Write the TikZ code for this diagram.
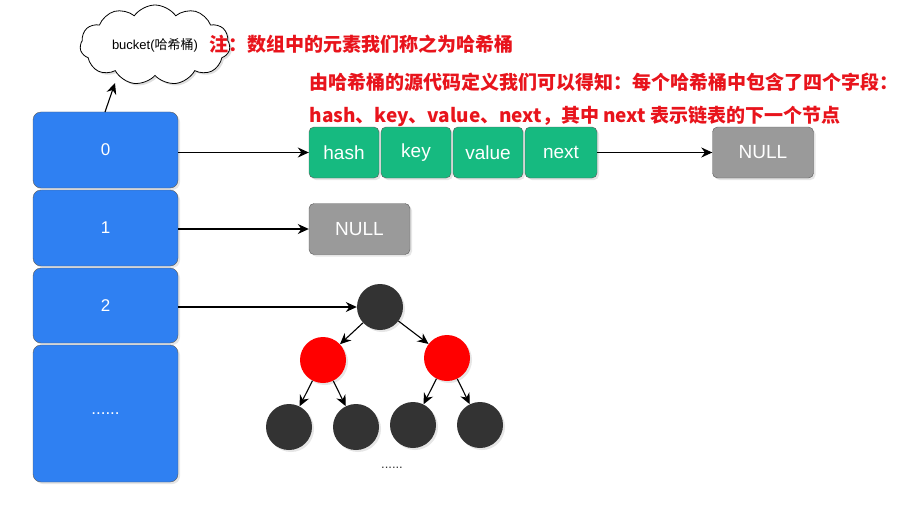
\documentclass[tikz,border=0pt]{standalone}
\usepackage{fontspec}
\setmainfont{Liberation Sans}
\newfontfamily\cjk{Noto Sans CJK SC}
\usetikzlibrary{shapes.symbols,arrows.meta,shadows}
\definecolor{blu}{HTML}{2F80F2}
\definecolor{grn}{HTML}{16BA80}
\definecolor{gry}{HTML}{9A9A9A}
\definecolor{dk}{HTML}{333333}
\definecolor{rd}{HTML}{E8141C}
\begin{document}
\begin{tikzpicture}[x=1pt,y=-1pt,
  arr/.style={-{Stealth[length=11pt,width=10pt]},line width=1.1pt},
  slot/.style={draw=dk!80,fill=blu,rounded corners=8pt,text=white,font=\fontsize{17}{19}\selectfont,drop shadow={opacity=0.2,shadow xshift=2pt,shadow yshift=-2pt}},
  fld/.style={draw=dk!80,fill=grn,rounded corners=5pt,minimum width=70pt,minimum height=51pt,text=white,font=\fontsize{19}{21}\selectfont,drop shadow={opacity=0.2,shadow xshift=2pt,shadow yshift=-2pt}},
  nul/.style={draw=dk!80,fill=gry,rounded corners=5pt,minimum width=101pt,minimum height=51pt,text=white,font=\fontsize{19}{21}\selectfont,drop shadow={opacity=0.2,shadow xshift=2pt,shadow yshift=-2pt}},
  rb/.style={circle,minimum size=46pt,inner sep=0pt,fill=#1,drop shadow={opacity=0.2,shadow xshift=2pt,shadow yshift=-2pt}},
  note/.style={anchor=west,text=rd,font=\cjk\bfseries\fontsize{19}{21}\selectfont}]
\useasboundingbox (0,0) rectangle (920,508);
\node[slot,minimum width=145pt,minimum height=76pt] (s0) at (105.5,150) {0};
\node[slot,minimum width=145pt,minimum height=76pt] (s1) at (105.5,228) {1};
\node[slot,minimum width=145pt,minimum height=75pt] (s2) at (105.5,305.5) {2};
\node[slot,minimum width=145pt,minimum height=137pt] (s3) at (105.5,413.5) {......};
\node[cloud,cloud puffs=11,cloud puff arc=110,aspect=2,draw=black,thick,fill=white,inner sep=-4pt,minimum width=150pt,minimum height=80pt,font=\fontsize{13}{15}\selectfont,drop shadow={opacity=0.25,shadow xshift=2pt,shadow yshift=-2pt}] (cl) at (155,45) {bucket({\cjk 哈希桶})};
\coordinate (c0) at (105,112);
\draw[arr] (c0) -- (115,83);
\node[note] (n1) at (206,44) {注：数组中的元素我们称之为哈希桶};
\node[note] (n2) at (306,82) {由哈希桶的源代码定义我们可以得知：每个哈希桶中包含了四个字段：};
\node[note] (n3) at (306,116) {hash、key、value、next，其中 next 表示链表的下一个节点};
\node[fld] (h) at (344,152.5) {hash};
\node[fld] (k) at (416,152.5) {key};
\node[fld] (v) at (488,152.5) {value};
\node[fld,minimum width=72pt] (nx) at (561,152.5) {next};
\node[nul] (N1) at (763,152.5) {NULL};
\node[nul] (N2) at (359.5,229) {NULL};
\draw[arr] (s0.east |- h) -- (h.west);
\draw[arr] (nx.east) -- (N1.west);
\draw[arr] (s1.east |- N2) -- (N2.west);
\node[rb=dk] (r) at (380,307) {};
\node[rb=red] (a) at (323,360) {};
\node[rb=red] (b) at (447,358) {};
\node[rb=dk] (l1) at (289,427) {};
\node[rb=dk] (l2) at (356,427) {};
\node[rb=dk] (l3) at (413,425) {};
\node[rb=dk] (l4) at (480,425) {};
\draw[arr] (s2.east |- r) -- (r.west);
\draw[arr] (r) -- (a); \draw[arr] (r) -- (b);
\draw[arr] (a) -- (l1); \draw[arr] (a) -- (l2);
\draw[arr] (b) -- (l3); \draw[arr] (b) -- (l4);
\node[font=\fontsize{13}{15}\selectfont,text=dk] (dots) at (392,468) {......};
\end{tikzpicture}
\end{document}
